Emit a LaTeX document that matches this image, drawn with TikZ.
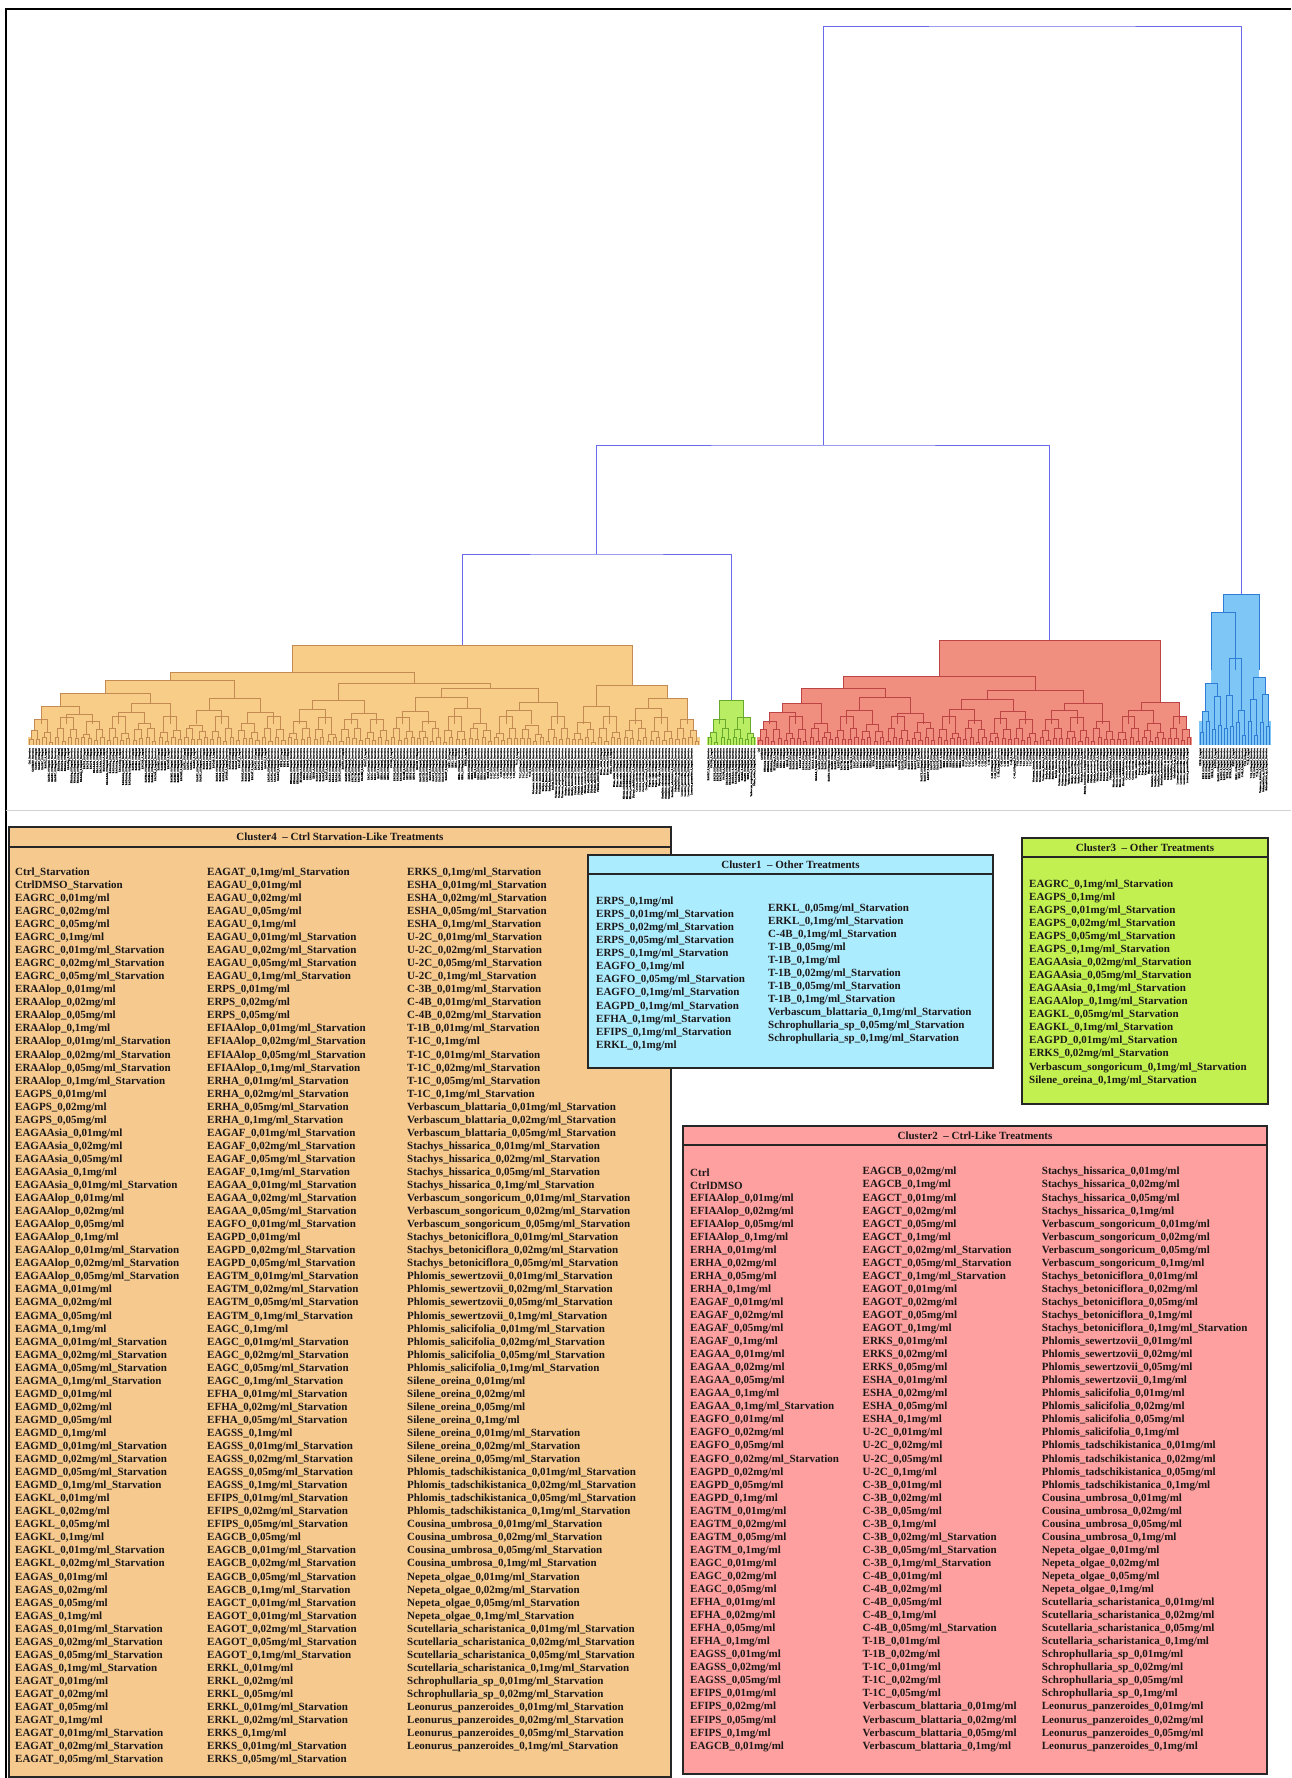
\documentclass[tikz,border=0pt]{standalone}
\usepackage{fontspec}
\setmainfont{Liberation Serif}
\newfontfamily\leaffont[FakeBold=2]{Liberation Serif}

\definecolor{Ink}{RGB}{28,24,24}
\definecolor{Tree}{RGB}{105,105,235}
\definecolor{Or}{RGB}{248,205,135}  \definecolor{OrD}{RGB}{196,138,84}
\definecolor{Gr}{RGB}{185,238,100}  \definecolor{GrD}{RGB}{105,170,45}
\definecolor{Rd}{RGB}{240,142,128}  \definecolor{RdD}{RGB}{188,68,68}
\definecolor{Bl}{RGB}{125,198,245}  \definecolor{BlD}{RGB}{45,125,215}
\definecolor{CfourBox}{RGB}{246,202,143}
\definecolor{ConeBox}{RGB}{172,236,255}
\definecolor{CthreeBox}{RGB}{193,240,80}
\definecolor{CtwoBox}{RGB}{255,160,160}

% treatment lists, one per column
\begingroup\catcode`\_=12
\gdef\cfourA{{Ctrl_Starvation},{CtrlDMSO_Starvation},{EAGRC_0,01mg/ml},{EAGRC_0,02mg/ml},{EAGRC_0,05mg/ml},{EAGRC_0,1mg/ml},%
{EAGRC_0,01mg/ml_Starvation},{EAGRC_0,02mg/ml_Starvation},{EAGRC_0,05mg/ml_Starvation},{ERAAlop_0,01mg/ml},{ERAAlop_0,02mg/ml},%
{ERAAlop_0,05mg/ml},{ERAAlop_0,1mg/ml},{ERAAlop_0,01mg/ml_Starvation},{ERAAlop_0,02mg/ml_Starvation},{ERAAlop_0,05mg/ml_Starvation},%
{ERAAlop_0,1mg/ml_Starvation},{EAGPS_0,01mg/ml},{EAGPS_0,02mg/ml},{EAGPS_0,05mg/ml},{EAGAAsia_0,01mg/ml},{EAGAAsia_0,02mg/ml},%
{EAGAAsia_0,05mg/ml},{EAGAAsia_0,1mg/ml},{EAGAAsia_0,01mg/ml_Starvation},{EAGAAlop_0,01mg/ml},{EAGAAlop_0,02mg/ml},{EAGAAlop_0,05mg/ml},%
{EAGAAlop_0,1mg/ml},{EAGAAlop_0,01mg/ml_Starvation},{EAGAAlop_0,02mg/ml_Starvation},{EAGAAlop_0,05mg/ml_Starvation},{EAGMA_0,01mg/ml},%
{EAGMA_0,02mg/ml},{EAGMA_0,05mg/ml},{EAGMA_0,1mg/ml},{EAGMA_0,01mg/ml_Starvation},{EAGMA_0,02mg/ml_Starvation},{EAGMA_0,05mg/ml_Starvation},%
{EAGMA_0,1mg/ml_Starvation},{EAGMD_0,01mg/ml},{EAGMD_0,02mg/ml},{EAGMD_0,05mg/ml},{EAGMD_0,1mg/ml},{EAGMD_0,01mg/ml_Starvation},%
{EAGMD_0,02mg/ml_Starvation},{EAGMD_0,05mg/ml_Starvation},{EAGMD_0,1mg/ml_Starvation},{EAGKL_0,01mg/ml},{EAGKL_0,02mg/ml},{EAGKL_0,05mg/ml},%
{EAGKL_0,1mg/ml},{EAGKL_0,01mg/ml_Starvation},{EAGKL_0,02mg/ml_Starvation},{EAGAS_0,01mg/ml},{EAGAS_0,02mg/ml},{EAGAS_0,05mg/ml},%
{EAGAS_0,1mg/ml},{EAGAS_0,01mg/ml_Starvation},{EAGAS_0,02mg/ml_Starvation},{EAGAS_0,05mg/ml_Starvation},{EAGAS_0,1mg/ml_Starvation},%
{EAGAT_0,01mg/ml},{EAGAT_0,02mg/ml},{EAGAT_0,05mg/ml},{EAGAT_0,1mg/ml},{EAGAT_0,01mg/ml_Starvation},{EAGAT_0,02mg/ml_Starvation},%
{EAGAT_0,05mg/ml_Starvation}}
\gdef\cfourB{{EAGAT_0,1mg/ml_Starvation},{EAGAU_0,01mg/ml},{EAGAU_0,02mg/ml},{EAGAU_0,05mg/ml},{EAGAU_0,1mg/ml},{EAGAU_0,01mg/ml_Starvation},%
{EAGAU_0,02mg/ml_Starvation},{EAGAU_0,05mg/ml_Starvation},{EAGAU_0,1mg/ml_Starvation},{ERPS_0,01mg/ml},{ERPS_0,02mg/ml},{ERPS_0,05mg/ml},%
{EFIAAlop_0,01mg/ml_Starvation},{EFIAAlop_0,02mg/ml_Starvation},{EFIAAlop_0,05mg/ml_Starvation},{EFIAAlop_0,1mg/ml_Starvation},%
{ERHA_0,01mg/ml_Starvation},{ERHA_0,02mg/ml_Starvation},{ERHA_0,05mg/ml_Starvation},{ERHA_0,1mg/ml_Starvation},{EAGAF_0,01mg/ml_Starvation},%
{EAGAF_0,02mg/ml_Starvation},{EAGAF_0,05mg/ml_Starvation},{EAGAF_0,1mg/ml_Starvation},{EAGAA_0,01mg/ml_Starvation},{EAGAA_0,02mg/ml_Starvation},%
{EAGAA_0,05mg/ml_Starvation},{EAGFO_0,01mg/ml_Starvation},{EAGPD_0,01mg/ml},{EAGPD_0,02mg/ml_Starvation},{EAGPD_0,05mg/ml_Starvation},%
{EAGTM_0,01mg/ml_Starvation},{EAGTM_0,02mg/ml_Starvation},{EAGTM_0,05mg/ml_Starvation},{EAGTM_0,1mg/ml_Starvation},{EAGC_0,1mg/ml},%
{EAGC_0,01mg/ml_Starvation},{EAGC_0,02mg/ml_Starvation},{EAGC_0,05mg/ml_Starvation},{EAGC_0,1mg/ml_Starvation},{EFHA_0,01mg/ml_Starvation},%
{EFHA_0,02mg/ml_Starvation},{EFHA_0,05mg/ml_Starvation},{EAGSS_0,1mg/ml},{EAGSS_0,01mg/ml_Starvation},{EAGSS_0,02mg/ml_Starvation},%
{EAGSS_0,05mg/ml_Starvation},{EAGSS_0,1mg/ml_Starvation},{EFIPS_0,01mg/ml_Starvation},{EFIPS_0,02mg/ml_Starvation},{EFIPS_0,05mg/ml_Starvation},%
{EAGCB_0,05mg/ml},{EAGCB_0,01mg/ml_Starvation},{EAGCB_0,02mg/ml_Starvation},{EAGCB_0,05mg/ml_Starvation},{EAGCB_0,1mg/ml_Starvation},%
{EAGCT_0,01mg/ml_Starvation},{EAGOT_0,01mg/ml_Starvation},{EAGOT_0,02mg/ml_Starvation},{EAGOT_0,05mg/ml_Starvation},{EAGOT_0,1mg/ml_Starvation},%
{ERKL_0,01mg/ml},{ERKL_0,02mg/ml},{ERKL_0,05mg/ml},{ERKL_0,01mg/ml_Starvation},{ERKL_0,02mg/ml_Starvation},{ERKS_0,1mg/ml},%
{ERKS_0,01mg/ml_Starvation},{ERKS_0,05mg/ml_Starvation}}
\gdef\cfourC{{ERKS_0,1mg/ml_Starvation},{ESHA_0,01mg/ml_Starvation},{ESHA_0,02mg/ml_Starvation},{ESHA_0,05mg/ml_Starvation},%
{ESHA_0,1mg/ml_Starvation},{U-2C_0,01mg/ml_Starvation},{U-2C_0,02mg/ml_Starvation},{U-2C_0,05mg/ml_Starvation},{U-2C_0,1mg/ml_Starvation},%
{C-3B_0,01mg/ml_Starvation},{C-4B_0,01mg/ml_Starvation},{C-4B_0,02mg/ml_Starvation},{T-1B_0,01mg/ml_Starvation},{T-1C_0,1mg/ml},%
{T-1C_0,01mg/ml_Starvation},{T-1C_0,02mg/ml_Starvation},{T-1C_0,05mg/ml_Starvation},{T-1C_0,1mg/ml_Starvation},%
{Verbascum_blattaria_0,01mg/ml_Starvation},{Verbascum_blattaria_0,02mg/ml_Starvation},{Verbascum_blattaria_0,05mg/ml_Starvation},%
{Stachys_hissarica_0,01mg/ml_Starvation},{Stachys_hissarica_0,02mg/ml_Starvation},{Stachys_hissarica_0,05mg/ml_Starvation},%
{Stachys_hissarica_0,1mg/ml_Starvation},{Verbascum_songoricum_0,01mg/ml_Starvation},{Verbascum_songoricum_0,02mg/ml_Starvation},%
{Verbascum_songoricum_0,05mg/ml_Starvation},{Stachys_betoniciflora_0,01mg/ml_Starvation},{Stachys_betoniciflora_0,02mg/ml_Starvation},%
{Stachys_betoniciflora_0,05mg/ml_Starvation},{Phlomis_sewertzovii_0,01mg/ml_Starvation},{Phlomis_sewertzovii_0,02mg/ml_Starvation},%
{Phlomis_sewertzovii_0,05mg/ml_Starvation},{Phlomis_sewertzovii_0,1mg/ml_Starvation},{Phlomis_salicifolia_0,01mg/ml_Starvation},%
{Phlomis_salicifolia_0,02mg/ml_Starvation},{Phlomis_salicifolia_0,05mg/ml_Starvation},{Phlomis_salicifolia_0,1mg/ml_Starvation},%
{Silene_oreina_0,01mg/ml},{Silene_oreina_0,02mg/ml},{Silene_oreina_0,05mg/ml},{Silene_oreina_0,1mg/ml},{Silene_oreina_0,01mg/ml_Starvation},%
{Silene_oreina_0,02mg/ml_Starvation},{Silene_oreina_0,05mg/ml_Starvation},{Phlomis_tadschikistanica_0,01mg/ml_Starvation},%
{Phlomis_tadschikistanica_0,02mg/ml_Starvation},{Phlomis_tadschikistanica_0,05mg/ml_Starvation},{Phlomis_tadschikistanica_0,1mg/ml_Starvation},%
{Cousina_umbrosa_0,01mg/ml_Starvation},{Cousina_umbrosa_0,02mg/ml_Starvation},{Cousina_umbrosa_0,05mg/ml_Starvation},%
{Cousina_umbrosa_0,1mg/ml_Starvation},{Nepeta_olgae_0,01mg/ml_Starvation},{Nepeta_olgae_0,02mg/ml_Starvation},{Nepeta_olgae_0,05mg/ml_Starvation},%
{Nepeta_olgae_0,1mg/ml_Starvation},{Scutellaria_scharistanica_0,01mg/ml_Starvation},{Scutellaria_scharistanica_0,02mg/ml_Starvation},%
{Scutellaria_scharistanica_0,05mg/ml_Starvation},{Scutellaria_scharistanica_0,1mg/ml_Starvation},{Schrophullaria_sp_0,01mg/ml_Starvation},%
{Schrophullaria_sp_0,02mg/ml_Starvation},{Leonurus_panzeroides_0,01mg/ml_Starvation},{Leonurus_panzeroides_0,02mg/ml_Starvation},%
{Leonurus_panzeroides_0,05mg/ml_Starvation},{Leonurus_panzeroides_0,1mg/ml_Starvation}}
\gdef\coneA{{ERPS_0,1mg/ml},{ERPS_0,01mg/ml_Starvation},{ERPS_0,02mg/ml_Starvation},{ERPS_0,05mg/ml_Starvation},{ERPS_0,1mg/ml_Starvation},%
{EAGFO_0,1mg/ml},{EAGFO_0,05mg/ml_Starvation},{EAGFO_0,1mg/ml_Starvation},{EAGPD_0,1mg/ml_Starvation},{EFHA_0,1mg/ml_Starvation},%
{EFIPS_0,1mg/ml_Starvation},{ERKL_0,1mg/ml}}
\gdef\coneB{{ERKL_0,05mg/ml_Starvation},{ERKL_0,1mg/ml_Starvation},{C-4B_0,1mg/ml_Starvation},{T-1B_0,05mg/ml},{T-1B_0,1mg/ml},%
{T-1B_0,02mg/ml_Starvation},{T-1B_0,05mg/ml_Starvation},{T-1B_0,1mg/ml_Starvation},{Verbascum_blattaria_0,1mg/ml_Starvation},%
{Schrophullaria_sp_0,05mg/ml_Starvation},{Schrophullaria_sp_0,1mg/ml_Starvation}}
\gdef\cthree{{EAGRC_0,1mg/ml_Starvation},{EAGPS_0,1mg/ml},{EAGPS_0,01mg/ml_Starvation},{EAGPS_0,02mg/ml_Starvation},%
{EAGPS_0,05mg/ml_Starvation},{EAGPS_0,1mg/ml_Starvation},{EAGAAsia_0,02mg/ml_Starvation},{EAGAAsia_0,05mg/ml_Starvation},%
{EAGAAsia_0,1mg/ml_Starvation},{EAGAAlop_0,1mg/ml_Starvation},{EAGKL_0,05mg/ml_Starvation},{EAGKL_0,1mg/ml_Starvation},%
{EAGPD_0,01mg/ml_Starvation},{ERKS_0,02mg/ml_Starvation},{Verbascum_songoricum_0,1mg/ml_Starvation},{Silene_oreina_0,1mg/ml_Starvation}}
\gdef\ctwoA{{Ctrl},{CtrlDMSO},{EFIAAlop_0,01mg/ml},{EFIAAlop_0,02mg/ml},{EFIAAlop_0,05mg/ml},{EFIAAlop_0,1mg/ml},{ERHA_0,01mg/ml},%
{ERHA_0,02mg/ml},{ERHA_0,05mg/ml},{ERHA_0,1mg/ml},{EAGAF_0,01mg/ml},{EAGAF_0,02mg/ml},{EAGAF_0,05mg/ml},{EAGAF_0,1mg/ml},%
{EAGAA_0,01mg/ml},{EAGAA_0,02mg/ml},{EAGAA_0,05mg/ml},{EAGAA_0,1mg/ml},{EAGAA_0,1mg/ml_Starvation},{EAGFO_0,01mg/ml},{EAGFO_0,02mg/ml},%
{EAGFO_0,05mg/ml},{EAGFO_0,02mg/ml_Starvation},{EAGPD_0,02mg/ml},{EAGPD_0,05mg/ml},{EAGPD_0,1mg/ml},{EAGTM_0,01mg/ml},{EAGTM_0,02mg/ml},%
{EAGTM_0,05mg/ml},{EAGTM_0,1mg/ml},{EAGC_0,01mg/ml},{EAGC_0,02mg/ml},{EAGC_0,05mg/ml},{EFHA_0,01mg/ml},{EFHA_0,02mg/ml},{EFHA_0,05mg/ml},%
{EFHA_0,1mg/ml},{EAGSS_0,01mg/ml},{EAGSS_0,02mg/ml},{EAGSS_0,05mg/ml},{EFIPS_0,01mg/ml},{EFIPS_0,02mg/ml},{EFIPS_0,05mg/ml},%
{EFIPS_0,1mg/ml},{EAGCB_0,01mg/ml}}
\gdef\ctwoB{{EAGCB_0,02mg/ml},{EAGCB_0,1mg/ml},{EAGCT_0,01mg/ml},{EAGCT_0,02mg/ml},{EAGCT_0,05mg/ml},{EAGCT_0,1mg/ml},%
{EAGCT_0,02mg/ml_Starvation},{EAGCT_0,05mg/ml_Starvation},{EAGCT_0,1mg/ml_Starvation},{EAGOT_0,01mg/ml},{EAGOT_0,02mg/ml},%
{EAGOT_0,05mg/ml},{EAGOT_0,1mg/ml},{ERKS_0,01mg/ml},{ERKS_0,02mg/ml},{ERKS_0,05mg/ml},{ESHA_0,01mg/ml},{ESHA_0,02mg/ml},{ESHA_0,05mg/ml},%
{ESHA_0,1mg/ml},{U-2C_0,01mg/ml},{U-2C_0,02mg/ml},{U-2C_0,05mg/ml},{U-2C_0,1mg/ml},{C-3B_0,01mg/ml},{C-3B_0,02mg/ml},{C-3B_0,05mg/ml},%
{C-3B_0,1mg/ml},{C-3B_0,02mg/ml_Starvation},{C-3B_0,05mg/ml_Starvation},{C-3B_0,1mg/ml_Starvation},{C-4B_0,01mg/ml},{C-4B_0,02mg/ml},%
{C-4B_0,05mg/ml},{C-4B_0,1mg/ml},{C-4B_0,05mg/ml_Starvation},{T-1B_0,01mg/ml},{T-1B_0,02mg/ml},{T-1C_0,01mg/ml},{T-1C_0,02mg/ml},%
{T-1C_0,05mg/ml},{Verbascum_blattaria_0,01mg/ml},{Verbascum_blattaria_0,02mg/ml},{Verbascum_blattaria_0,05mg/ml},{Verbascum_blattaria_0,1mg/ml}}
\gdef\ctwoC{{Stachys_hissarica_0,01mg/ml},{Stachys_hissarica_0,02mg/ml},{Stachys_hissarica_0,05mg/ml},{Stachys_hissarica_0,1mg/ml},%
{Verbascum_songoricum_0,01mg/ml},{Verbascum_songoricum_0,02mg/ml},{Verbascum_songoricum_0,05mg/ml},{Verbascum_songoricum_0,1mg/ml},%
{Stachys_betoniciflora_0,01mg/ml},{Stachys_betoniciflora_0,02mg/ml},{Stachys_betoniciflora_0,05mg/ml},{Stachys_betoniciflora_0,1mg/ml},%
{Stachys_betoniciflora_0,1mg/ml_Starvation},{Phlomis_sewertzovii_0,01mg/ml},{Phlomis_sewertzovii_0,02mg/ml},{Phlomis_sewertzovii_0,05mg/ml},%
{Phlomis_sewertzovii_0,1mg/ml},{Phlomis_salicifolia_0,01mg/ml},{Phlomis_salicifolia_0,02mg/ml},{Phlomis_salicifolia_0,05mg/ml},%
{Phlomis_salicifolia_0,1mg/ml},{Phlomis_tadschikistanica_0,01mg/ml},{Phlomis_tadschikistanica_0,02mg/ml},{Phlomis_tadschikistanica_0,05mg/ml},%
{Phlomis_tadschikistanica_0,1mg/ml},{Cousina_umbrosa_0,01mg/ml},{Cousina_umbrosa_0,02mg/ml},{Cousina_umbrosa_0,05mg/ml},{Cousina_umbrosa_0,1mg/ml},%
{Nepeta_olgae_0,01mg/ml},{Nepeta_olgae_0,02mg/ml},{Nepeta_olgae_0,05mg/ml},{Nepeta_olgae_0,1mg/ml},{Scutellaria_scharistanica_0,01mg/ml},%
{Scutellaria_scharistanica_0,02mg/ml},{Scutellaria_scharistanica_0,05mg/ml},{Scutellaria_scharistanica_0,1mg/ml},{Schrophullaria_sp_0,01mg/ml},%
{Schrophullaria_sp_0,02mg/ml},{Schrophullaria_sp_0,05mg/ml},{Schrophullaria_sp_0,1mg/ml},{Leonurus_panzeroides_0,01mg/ml},%
{Leonurus_panzeroides_0,02mg/ml},{Leonurus_panzeroides_0,05mg/ml},{Leonurus_panzeroides_0,1mg/ml}}
\endgroup

% upper merges of each cluster: xl/yl/xr/yr/bar/colour
\def\merges{66.8/724/92.6/724/714/Or,40.9/724/79.7/714/706/Or,118.4/724/144.3/724/712/Or,131.4/712/170.1/724/703/Or,%
60.3/706/150.8/703/693/Or,196.0/724/221.8/724/710/Or,247.6/724/273.5/724/712/Or,208.9/710/260.6/712/698/Or,%
105.5/693/234.7/698/680/Or,299.3/724/325.1/724/709/Or,351.0/724/376.8/724/713/Or,312.2/709/363.9/713/700/Or,%
402.7/724/428.5/724/711/Or,454.3/724/480.2/724/708/Or,415.6/711/467.3/708/697/Or,506.0/724/531.8/724/710/Or,%
518.9/710/557.7/724/702/Or,441.4/697/538.3/702/688/Or,338.0/700/489.9/688/683/Or,170.1/680/413.9/683/672/Or,%
635.2/724/661.0/724/708/Or,648.1/708/686.9/724/698/Or,583.5/724/609.4/724/706/Or,596.5/706/667.5/698/685/Or,%
292.0/672/632.0/685/645/Or,%
719.2/724/743.7/724/700/Gr,%
769.8/724/795.4/724/712/Rd,782.6/712/821.0/724/703/Rd,846.6/724/872.2/724/710/Rd,897.8/724/923.4/724/713/Rd,%
859.4/710/910.6/713/697/Rd,801.8/703/885.0/697/688/Rd,949.0/724/974.6/724/709/Rd,1000.2/724/1025.8/724/711/Rd,%
961.8/709/1013.0/711/699/Rd,1051.4/724/1077.0/724/710/Rd,1064.2/710/1102.6/724/703/Rd,987.4/699/1083.4/703/690/Rd,%
843.4/688/1035.4/690/676/Rd,1128.2/724/1153.8/724/710/Rd,1141.0/710/1179.4/724/702/Rd,939.4/676/1160.2/702/640/Rd,%
1211/670/1235/670/612/Bl,1223/612/1259/670/594/Bl}

\newcommand\boxlist[4]{%
  \foreach \lbl [count=\i] in #1 {\node[item] (#4-\i) at (#2,{#3+13.05*(\i-1)}) {\lbl};}}
\newcommand\leaflist[5]{%
  \foreach \lbl [count=\i] in #1 {\node[leaf] (#5-\i) at ({#2+(#4+\i-0.5)*#3},748) {\lbl};}}

\begin{document}
\begin{tikzpicture}[x=1pt,y=-1pt,
  declare function={va(\a,\b)=3+5*abs(sin(137*\a+71*\b+11));
                    vb(\a,\b)=11+6*abs(sin(113*\a+59*\b+23));
                    vc(\a)=20+9*abs(sin(97*\a+41));},
  item/.style={anchor=west,inner sep=0pt,text=Ink,font=\fontsize{11}{13}\selectfont\bfseries},
  leaf/.style={rotate=90,anchor=east,inner sep=0pt,text=black,font=\leaffont\fontsize{2.6}{2.8}\selectfont},
  heading/.style={inner sep=0pt,text=Ink,font=\fontsize{11}{12}\selectfont\bfseries},
  panel/.style={draw=black!85,line width=2.4pt},
  titlerule/.style={draw=black!85,line width=2pt},
  toptree/.style={draw=Tree,line width=0.8pt}]
\useasboundingbox (0,0) rectangle (1291,1778);
\draw[line width=1.5pt] (6,1778) -- (6,9) -- (1291,9);
\draw[gray!35] (6,810) -- (1291,810);

% top of the dendrogram
\coordinate (c4) at (462,645);
\coordinate (c3) at (731.5,700);
\coordinate (c2) at (1049.8,640);
\coordinate (c1) at (1241,594);
\coordinate (n1) at (596.8,554);
\coordinate (n2) at (823.3,445);
\coordinate (root) at (1032,26);
\draw[toptree] (c4) |- (n1) -| (c3);
\draw[toptree] (n1) |- (n2) -| (c2);
\draw[toptree] (n2) |- (root) -| (c1);

% clusters: fills, leaf fringe, then the upper lines
\foreach \xl/\yl/\xr/\yr/\y/\col in \merges {\fill[fill=\col] (\xl,\y) rectangle (\xr,745);}
\foreach \xo/\dx/\ka/\kb/\s/\col in {28/3.23/1/26/1/Or,707/3.06/27/28/1/Gr,757/3.2/29/45/1/Rd,1199/3.0/46/48/3/Bl}{
  \foreach \g in {\ka,...,\kb}{
    \pgfmathsetmacro\xg{\xo+8*\dx*(\g-\ka)}
    \pgfmathsetmacro\hb{745-\s*vb(\g,0)}
    \pgfmathsetmacro\hbb{745-\s*vb(\g,1)}
    \pgfmathsetmacro\hc{745-\s*vc(\g)}
    \fill[fill=\col] ({\xg},745) rectangle ({\xg+8*\dx},{745-8*\s});
    \fill[fill=\col] ({\xg+\dx},745) rectangle ({\xg+3*\dx},\hb);
    \fill[fill=\col] ({\xg+5*\dx},745) rectangle ({\xg+7*\dx},\hbb);
    \fill[fill=\col] ({\xg+2*\dx},745) rectangle ({\xg+6*\dx},\hc);
    \foreach \p in {0,...,3}
      \draw[draw=\col D,line width=0.5pt] ({\xg+(2*\p+0.5)*\dx},745) |- ({\xg+(2*\p+1.5)*\dx},{745-\s*va(\g,\p)}) -- ({\xg+(2*\p+1.5)*\dx},745);
    \foreach \q in {0,1}
      \draw[draw=\col D,line width=0.5pt] ({\xg+(4*\q+1)*\dx},{745-\s*va(\g,2*\q)}) |- ({\xg+(4*\q+3)*\dx},{745-\s*vb(\g,\q)}) -- ({\xg+(4*\q+3)*\dx},{745-\s*va(\g,2*\q+1)});
    \draw[draw=\col D,line width=0.5pt] ({\xg+2*\dx},\hb) |- ({\xg+6*\dx},\hc) -- ({\xg+6*\dx},\hbb);
  }
}
\foreach \xl/\yl/\xr/\yr/\y/\col in \merges {\draw[draw=\col D,line width=0.7pt] (\xl,\yl) |- (\xr,\y) -- (\xr,\yr);}

% leaf labels
\leaflist{\cfourA}{28}{3.23}{0}{la}
\leaflist{\cfourB}{28}{3.23}{69}{lb}
\leaflist{\cfourC}{28}{3.23}{138}{lc}
\leaflist{\cthree}{707}{3.06}{0}{ld}
\leaflist{\ctwoA}{757}{3.2}{0}{le}
\leaflist{\ctwoB}{757}{3.2}{45}{lf}
\leaflist{\ctwoC}{757}{3.2}{90}{lg}
\leaflist{\coneA}{1199}{3.0}{0}{lh}
\leaflist{\coneB}{1199}{3.0}{12}{li}

% Cluster4
\draw[panel,fill=CfourBox] (9,827) rectangle (671,1777);
\draw[titlerule] (9,847) -- (671,847);
\node[heading] (h4) at (340,837) {Cluster4 \ – Ctrl Starvation-Like Treatments};
\boxlist{\cfourA}{15}{872.7}{ca}
\boxlist{\cfourB}{207}{872.7}{cb}
\boxlist{\cfourC}{407}{872.7}{cc}

% Cluster1
\draw[panel,fill=ConeBox] (588,855) rectangle (993,1068);
\draw[titlerule] (588,874) -- (993,874);
\node[heading] (h1) at (790.5,864.5) {Cluster1 \ – Other Treatments};
\boxlist{\coneA}{596}{902}{cd}
\boxlist{\coneB}{768}{908.5}{ce}

% Cluster3
\draw[panel,fill=CthreeBox] (1022,838) rectangle (1268,1104);
\draw[titlerule] (1022,857) -- (1268,857);
\node[heading] (h3) at (1145,847.5) {Cluster3 \ – Other Treatments};
\boxlist{\cthree}{1029}{884.7}{cf}

% Cluster2
\draw[panel,fill=CtwoBox] (683,1126) rectangle (1267,1774);
\draw[titlerule] (683,1145) -- (1267,1145);
\node[heading] (h2) at (975,1135.5) {Cluster2 \ – Ctrl-Like Treatments};
\boxlist{\ctwoA}{690}{1172.3}{cg}
\boxlist{\ctwoB}{862.5}{1172.3}{ch}
\boxlist{\ctwoC}{1041.7}{1172.3}{ci}
\end{tikzpicture}
\end{document}
